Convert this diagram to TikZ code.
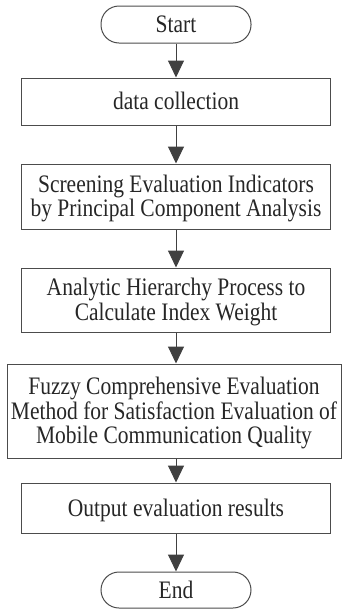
\documentclass[tikz,border=0pt]{standalone}
\usepackage{fontspec}
\setmainfont{Liberation Serif}
\usetikzlibrary{arrows.meta}
\newcommand{\steptext}[1]{\raisebox{-3pt}[\height][\depth]{\scalebox{1}[1.17]{\begin{tabular}{@{}c@{}}#1\end{tabular}}}}

\begin{document}
\begin{tikzpicture}[x=1pt, y=-1pt,
		every node/.style={font=\fontsize{21.5}{20.5}\selectfont, text=black!85, inner sep=0pt},
		stepbox/.style={draw=black!70, line width=1pt, minimum width=309pt},
		terminal/.style={draw=black!70, line width=1pt, rounded corners=18pt, minimum width=150pt},
		arr/.style={draw=black!75, line width=1pt, -{Triangle[length=17pt, width=16pt]}}]
			\useasboundingbox (0,0) rectangle (342,611);
			\node[terminal, minimum height=37pt] (start) at (176,24.5) {\steptext{Start}};
			\node[stepbox, minimum height=47pt] (collect) at (176,101.5) {\steptext{data collection}};
			\node[stepbox, minimum height=65pt] (screen) at (176,196.5) {\steptext{Screening Evaluation Indicators\\by Principal Component Analysis}};
			\node[stepbox, minimum height=64pt] (ahp) at (176,300) {\steptext{Analytic Hierarchy Process to\\Calculate Index Weight}};
			\node[stepbox, minimum height=94pt, minimum width=334pt] (fuzzy) at (174,411) {\steptext{Fuzzy Comprehensive Evaluation\\Method for Satisfaction Evaluation of\\Mobile Communication Quality}};
			\node[stepbox, minimum height=50pt] (output) at (176,508) {\steptext{Output evaluation results}};
			\node[terminal, minimum height=36pt] (end) at (176,590) {\steptext{End}};
			\draw[arr] (start) -- (collect);
			\draw[arr] (collect) -- (screen);
			\draw[arr] (screen) -- (ahp);
			\draw[arr] (ahp) -- (ahp |- fuzzy.north);
			\draw[arr] (fuzzy.south -| output) -- (output);
			\draw[arr] (output) -- (end);
		\end{tikzpicture}
\end{document}
